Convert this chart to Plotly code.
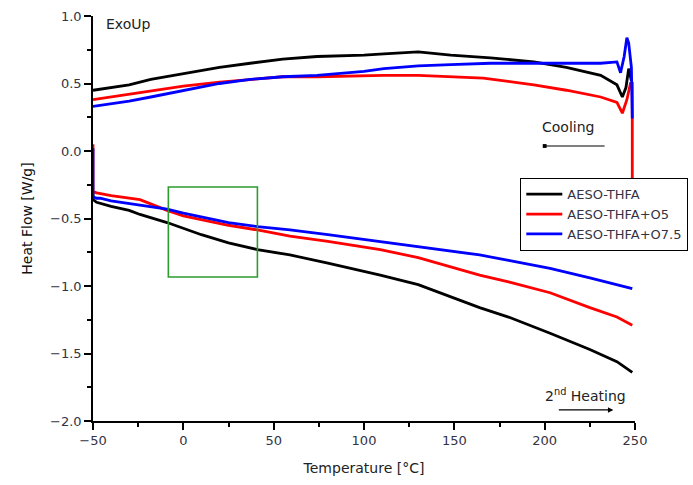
import plotly.graph_objects as go

FONT = "DejaVu Sans, Liberation Sans, Arial, sans-serif"

names = ["AESO-THFA", "AESO-THFA+O5", "AESO-THFA+O7.5"]
colors = ["#000000", "#ff0000", "#0000ff"]

# Cooling curves (upper group)
cool_T_black = [-50, -40, -30, -18, 0, 20, 37, 55, 74, 100, 111, 125, 130, 148, 170, 194, 212, 231, 240, 243, 245, 246.5, 248]
cool_black = [0.45, 0.47, 0.49, 0.53, 0.57, 0.62, 0.65, 0.68, 0.70, 0.71, 0.72, 0.73, 0.735, 0.71, 0.69, 0.66, 0.62, 0.56, 0.49, 0.40, 0.47, 0.61, 0.52]

cool_T_red = [-50, -40, -30, -18, 0, 20, 37, 55, 74, 100, 111, 130, 148, 166, 194, 212, 231, 240, 243, 245.5, 247.5, 248.5, 248.5]
cool_red = [0.38, 0.40, 0.42, 0.44, 0.48, 0.51, 0.53, 0.55, 0.55, 0.56, 0.56, 0.56, 0.55, 0.54, 0.49, 0.45, 0.40, 0.36, 0.28, 0.38, 0.50, 0.50, -0.35]

cool_T_blue = [-50, -40, -30, -18, 0, 20, 37, 55, 74, 100, 111, 130, 148, 170, 194, 212, 231, 240, 242, 244, 245.5, 246.5, 248, 248.5]
cool_blue = [0.33, 0.35, 0.37, 0.40, 0.45, 0.50, 0.53, 0.55, 0.56, 0.59, 0.61, 0.63, 0.64, 0.65, 0.65, 0.65, 0.65, 0.66, 0.58, 0.70, 0.84, 0.80, 0.62, 0.24]

# 2nd heating curves (lower group)
heat_T_black = [-50, -50, -48, -40, -30, -24, -9, 0, 10, 25, 41, 59, 80, 109, 130, 164, 180, 203, 225, 240, 248.5]
heat_black = [-0.30, -0.36, -0.38, -0.41, -0.44, -0.47, -0.53, -0.57, -0.62, -0.68, -0.73, -0.77, -0.83, -0.92, -0.99, -1.16, -1.23, -1.35, -1.47, -1.56, -1.64]

heat_T_red = [-50, -50, -48, -40, -24, -9, 0, 10, 25, 41, 59, 80, 109, 130, 164, 180, 203, 225, 240, 248.5]
heat_red = [0.05, -0.30, -0.31, -0.33, -0.36, -0.44, -0.48, -0.51, -0.55, -0.585, -0.63, -0.67, -0.73, -0.79, -0.92, -0.97, -1.05, -1.16, -1.23, -1.29]

heat_T_blue = [-50, -50, -48, -46, -40, -24, -9, 0, 10, 25, 41, 59, 80, 109, 130, 164, 180, 203, 225, 240, 248.5]
heat_blue = [0.02, -0.34, -0.35, -0.35, -0.37, -0.40, -0.43, -0.46, -0.49, -0.53, -0.56, -0.585, -0.62, -0.67, -0.71, -0.77, -0.81, -0.87, -0.94, -0.99, -1.02]

# highlighted region (green box)
box_T = [-8.3, 41]
box_HF = [-0.933, -0.267]

x_ticks = [-50, 0, 50, 100, 150, 200, 250]
y_ticks = [-2.0, -1.5, -1.0, -0.5, 0.0, 0.5, 1.0]

fig = go.Figure()

cool = [(cool_T_black, cool_black), (cool_T_red, cool_red), (cool_T_blue, cool_blue)]
heat = [(heat_T_black, heat_black), (heat_T_red, heat_red), (heat_T_blue, heat_blue)]

for i in range(3):
    fig.add_trace(go.Scatter(x=heat[i][0], y=heat[i][1], mode="lines",
                             line=dict(color=colors[i], width=2.8),
                             name=names[i], legendgroup=names[i], showlegend=True))
for i in range(3):
    fig.add_trace(go.Scatter(x=cool[i][0], y=cool[i][1], mode="lines",
                             line=dict(color=colors[i], width=2.8),
                             name=names[i], legendgroup=names[i], showlegend=False))

fig.add_shape(type="rect", x0=box_T[0], x1=box_T[1], y0=box_HF[0], y1=box_HF[1],
              line=dict(color="#2e9b2e", width=1.6), fillcolor="rgba(0,0,0,0)")

txt = dict(family=FONT, size=14, color="#222")
fig.add_annotation(x=-44, y=0.94, text="ExoUp", showarrow=False, xanchor="left",
                   yanchor="middle", font=txt)
fig.add_annotation(x=213, y=0.18, text="Cooling", showarrow=False, font=txt)
fig.add_annotation(x=200, y=0.037, ax=234, ay=0.037, axref="x", ayref="y",
                   text="", showarrow=True, arrowhead=7, arrowsize=0.8,
                   arrowwidth=1.2, arrowcolor="black")
fig.add_annotation(x=222.5, y=-1.807, text="2<sup>nd</sup> Heating", showarrow=False, font=txt)
fig.add_annotation(x=238, y=-1.918, ax=207, ay=-1.918, axref="x", ayref="y",
                   text="", showarrow=True, arrowhead=2, arrowsize=0.9,
                   arrowwidth=1.2, arrowcolor="black")

axis_common = dict(showline=True, linecolor="black", linewidth=1.6, showgrid=False,
                   zeroline=False, ticks="outside", ticklen=7, tickwidth=1.5,
                   tickcolor="black", tickfont=dict(family=FONT, size=13, color="#334"),
                   mirror=False)

fig.update_xaxes(range=[-50, 250], tickvals=x_ticks,
                 minor=dict(dtick=25, ticks="outside", ticklen=4, tickwidth=1.5, tickcolor="black"),
                 title=dict(text="Temperature [°C]", font=dict(family=FONT, size=14, color="#222"), standoff=16),
                 **axis_common)
fig.update_yaxes(range=[-2, 1], tickvals=y_ticks, tickformat=".1f",
                 minor=dict(dtick=0.25, ticks="outside", ticklen=4, tickwidth=1.5, tickcolor="black"),
                 title=dict(text="Heat Flow [W/g]", font=dict(family=FONT, size=14, color="#111"), standoff=14),
                 **axis_common)

fig.update_layout(
    width=693, height=485,
    margin=dict(l=93, r=58, t=16, b=64, autoexpand=False),
    plot_bgcolor="white", paper_bgcolor="white",
    legend=dict(x=0.788, y=0.6, xanchor="left", yanchor="top",
                bgcolor="white", bordercolor="black", borderwidth=1.2,
                font=dict(family=FONT, size=13, color="#334"),
                itemwidth=36, tracegroupgap=0),
)

fig.write_html("out.html")
